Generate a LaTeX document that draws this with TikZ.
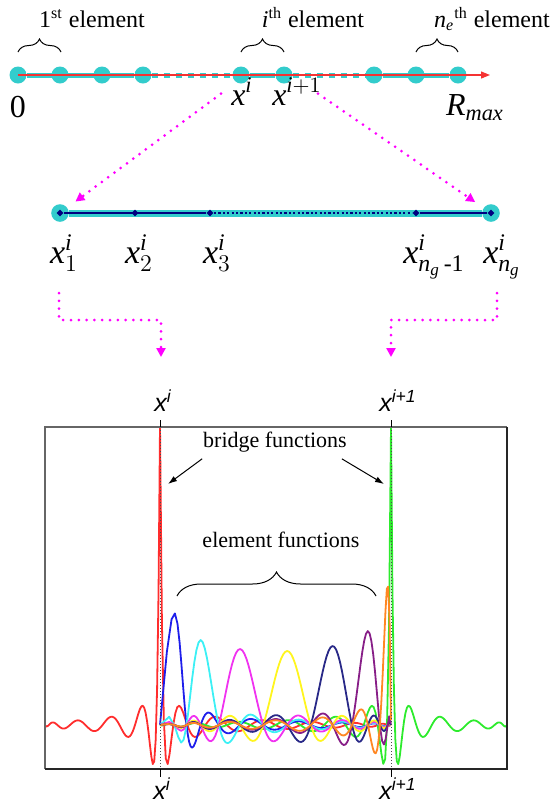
\documentclass[tikz,border=0pt]{standalone}
\usepackage{amsmath}
\usepackage{fontspec}
\setmainfont{Liberation Serif}
\newfontfamily\plotfont{Liberation Sans}
\usepackage{tikz}
\usetikzlibrary{positioning,arrows.meta,decorations.pathreplacing,shapes.geometric}
\newcommand\tv[1]{\textit{#1}}
\definecolor{gridcyan}{RGB}{51,204,204}
\definecolor{gridnavy}{RGB}{0,0,128}
\definecolor{linkpink}{RGB}{255,0,255}
\definecolor{axisred}{RGB}{245,50,50}
\definecolor{fred}{RGB}{255,45,45}
\definecolor{fgreen}{RGB}{45,235,45}
\definecolor{fblue}{RGB}{30,30,235}
\definecolor{fcyan}{RGB}{60,240,245}
\definecolor{fmagenta}{RGB}{240,50,240}
\definecolor{fyellow}{RGB}{255,245,30}
\definecolor{fnavy}{RGB}{40,40,135}
\definecolor{fpurple}{RGB}{135,30,135}
\definecolor{forange}{RGB}{255,135,35}
\tikzset{
  gnode/.style={circle,fill=gridcyan,minimum size=8.5pt,inner sep=0pt},
  gpt/.style={diamond,fill=gridnavy,minimum size=3.6pt,inner sep=0pt},
  gline/.style={gridcyan,line width=2.5pt},
  gdash/.style={gline,dash pattern=on 3pt off 3pt},
  nline/.style={gridnavy,line width=1.2pt},
  axisline/.style={axisred,line width=0.6pt,-{Triangle[length=4.5pt,width=3.5pt]}},
  link/.style={linkpink,line width=1.5pt,line cap=round,dash pattern=on 0pt off 3.9pt,-{Triangle[length=4.5pt,width=4.5pt]}},
  barrow/.style={line width=0.5pt,-{Latex[length=4.5pt,width=3pt]}},
  brc/.style={decorate,decoration={brace,amplitude=#1},line width=0.5pt},
  fn/.style={line width=0.9pt,line join=round},
  elab/.style={font=\fontsize{12}{14}\selectfont,anchor=base},
  alab/.style={font=\fontsize{16}{18}\selectfont,anchor=base},
  glab/.style={font=\fontsize{17}{19}\selectfont,anchor=base},
  plab/.style={font=\plotfont\itshape\fontsize{12.5}{14}\selectfont,anchor=base},
  flab/.style={font=\fontsize{11}{13}\selectfont,anchor=base}
}

\begin{document}
\begin{tikzpicture}[x=0.5pt,y=-0.5pt,
  declare function={
    fac(\x,\a,\k)=(\a==\k)+(\a!=\k)*(\x-(\a))/(\k-(\a)+(\a==\k));
    lagm(\x,\k)=fac(\x,-1,\k)*fac(\x,1,\k)*fac(\x,-0.96525,\k)*fac(\x,0.96525,\k)*fac(\x,-0.88508,\k)*fac(\x,0.88508,\k)*fac(\x,-0.76352,\k)*fac(\x,0.76352,\k)*fac(\x,-0.60625,\k)*fac(\x,0.60625,\k)*fac(\x,-0.42064,\k)*fac(\x,0.42064,\k)*fac(\x,-0.21535,\k)*fac(\x,0.21535,\k)*fac(\x,0,\k);
    lagn(\x,\k)=fac(\x,-1,\k)*fac(\x,1,\k)*fac(\x,-0.93400,\k)*fac(\x,0.93400,\k)*fac(\x,-0.78448,\k)*fac(\x,0.78448,\k)*fac(\x,-0.56524,\k)*fac(\x,0.56524,\k)*fac(\x,-0.29576,\k)*fac(\x,0.29576,\k)*fac(\x,0,\k);
    tm(\x)=(\x+1)/2+0.058*(1-exp(max(-(\x+1)/0.024,-12)))*(1-((\x+1)/2)^3);
  }]
\useasboundingbox (0,0) rectangle (554,805);

\node[gnode] (r0) at (18,75) {}; \node[gnode] (r1) at (60,75) {}; \node[gnode] (r2) at (102,75) {}; \node[gnode] (r3) at (143,75) {};
\node[gnode] (r4) at (241,75) {}; \node[gnode] (r5) at (284,75) {};
\node[gnode] (r6) at (374,75) {}; \node[gnode] (r7) at (416,75) {}; \node[gnode] (r8) at (458,75) {};
\draw[gline] (r0) -- (r3); \draw[gdash] (r3) -- (r4); \draw[gline] (r4) -- (r5); \draw[gdash] (r5) -- (r6); \draw[gline] (r6) -- (r8);
\coordinate (rend) at (490,75);
\draw[axisline] (r0.center) -- (rend);
\draw[brc=6.5pt] (18,52) -- (61,52); \draw[brc=6.5pt] (241,52) -- (284,52); \draw[brc=6.5pt] (416,52) -- (458,52);
\node[elab] (t1) at (92,27) {1\textsuperscript{st} element};
\node[elab] (t2) at (313,27) {\tv{i}\textsuperscript{th} element};
\node[elab] (t3) at (492,27) {$\tv{n}_{\tv{e}}$\textsuperscript{th} element};
\node[alab] (z0) at (18,117) {0};
\node[alab] (xi) at (242,105) {$\tv{x}^{\tv{i}}$};
\node[alab] (xj) at (297,105) {$\tv{x}^{\tv{i}+1}$};
\node[alab] (rm) at (475,115) {$\tv{R}_{\tv{max}}$};

\node[gnode,minimum size=8.8pt] (c1) at (60,213) {}; \node[gnode,minimum size=8.8pt] (c5) at (491,213) {};
\draw[gline,line width=3.5pt] (c1) -- (c5);
\node[gpt] (g1) at (60,213) {}; \node[gpt] (g2) at (135,213) {}; \node[gpt] (g3) at (210,213) {};
\node[gpt] (g4) at (416,213) {}; \node[gpt] (g5) at (491,213) {};
\draw[nline] (g1) -- (g3); \draw[nline,dash pattern=on 1.1pt off 1.1pt] (g3) -- (g4); \draw[nline] (g4) -- (g5);
\node[glab] (l1) at (64,263) {$\tv{x}^{\tv{i}}_1$}; \node[glab] (l2) at (139,263) {$\tv{x}^{\tv{i}}_2$}; \node[glab] (l3) at (217,263) {$\tv{x}^{\tv{i}}_3$};
\node[glab] (l4) at (434,263) {$\tv{x}^{\tv{i}}_{\tv{n}_{\tv{g}}\text{\,-1}}$}; \node[glab] (l5) at (502,263) {$\tv{x}^{\tv{i}}_{\tv{n}_{\tv{g}}}$};
\draw[link,shorten <=2pt,shorten >=5pt] (xi.west) -- (c1);
\draw[link,shorten <=2pt,shorten >=5pt] ([xshift=-7pt]xj.east) -- (c5);
\coordinate (d1) at (161,357); \coordinate (d2) at (391,357);
\draw[link] ([xshift=-2.5pt]l1.south |- 0,293) -- ([xshift=-2.5pt]l1.south |- 0,320) -| (d1);
\draw[link] ([xshift=-2.5pt]l5.south |- 0,293) -- ([xshift=-2.5pt]l5.south |- 0,320) -| (d2);

\begin{scope}
\clip (45,427) rectangle (507,769);
\draw[fn,fred] plot[domain=-1:1,samples=81] ({45+57.5*(\x+1)},{725-300*lagn(\x,1)});
\draw[fn,fred] plot[domain=-1:1,samples=121] ({160+115.5*(\x+1)},{725-300*lagm(\x,-1)});
\draw[fn,fgreen] plot[domain=-1:1,samples=121] ({160+115.5*(\x+1)},{725-300*lagm(\x,1)});
\draw[fn,fgreen] plot[domain=-1:1,samples=81] ({391+58*(\x+1)},{725-300*lagn(\x,-1)});
\draw[fn,fblue] plot[domain=-1:1,samples=161] ({160+231*tm(\x)},{725-112*lagm(\x,-0.96525)});
\draw[fn,fcyan] plot[domain=-1:1,samples=111] ({160+231*tm(\x)},{725-85*lagm(\x,-0.76352)});
\draw[fn,fmagenta] plot[domain=-1:1,samples=111] ({160+231*tm(\x)},{725-76*lagm(\x,-0.42064)});
\draw[fn,fyellow] plot[domain=-1:1,samples=111] ({160+231*tm(\x)},{725-74*lagm(\x,0)});
\draw[fn,fnavy] plot[domain=-1:1,samples=111] ({160+231*tm(\x)},{725-79*lagm(\x,0.42064)});
\draw[fn,fpurple] plot[domain=-1:1,samples=111] ({160+231*tm(\x)},{725-94*lagm(\x,0.76352)});
\draw[fn,forange] plot[domain=-1:1,samples=141] ({160+231*tm(\x)},{725-141*lagm(\x,0.96525)});
\end{scope}
\draw[black!70,densely dotted,line width=0.5pt] (160,427) -- (160,769); \draw[black!70,densely dotted,line width=0.5pt] (391,427) -- (391,769);
\draw[black!60,line width=0.9pt] (45,769) -- (45,427) -- (507,427);
\draw[black!85,line width=0.6pt] (507,427) -- (507,769) -- (45,769);
\draw[line width=0.5pt] (160,420) -- (160,427); \draw[line width=0.5pt] (391,420) -- (391,427);
\draw[line width=0.5pt] (160,769) -- (160,777); \draw[line width=0.5pt] (391,769) -- (391,777);
\node[plab] (pi) at (163,411) {x\textsuperscript{i}}; \node[plab] (pj) at (398,411) {x\textsuperscript{i+1}};
\node[plab] (qi) at (162,799) {x\textsuperscript{i}}; \node[plab] (qj) at (398,799) {x\textsuperscript{i+1}};

\node[flab] (bf) at (275,447) {bridge functions};
\coordinate (ba) at (168,484); \coordinate (bb) at (384,484);
\draw[barrow] ([xshift=3pt]bf.south west) -- (ba);
\draw[barrow] ([xshift=-6pt]bf.south east) -- (bb);
\node[flab] (ef) at (281,547) {element functions};
\draw[brc=12pt] (177,596) -- (376,596);
\end{tikzpicture}
\end{document}
